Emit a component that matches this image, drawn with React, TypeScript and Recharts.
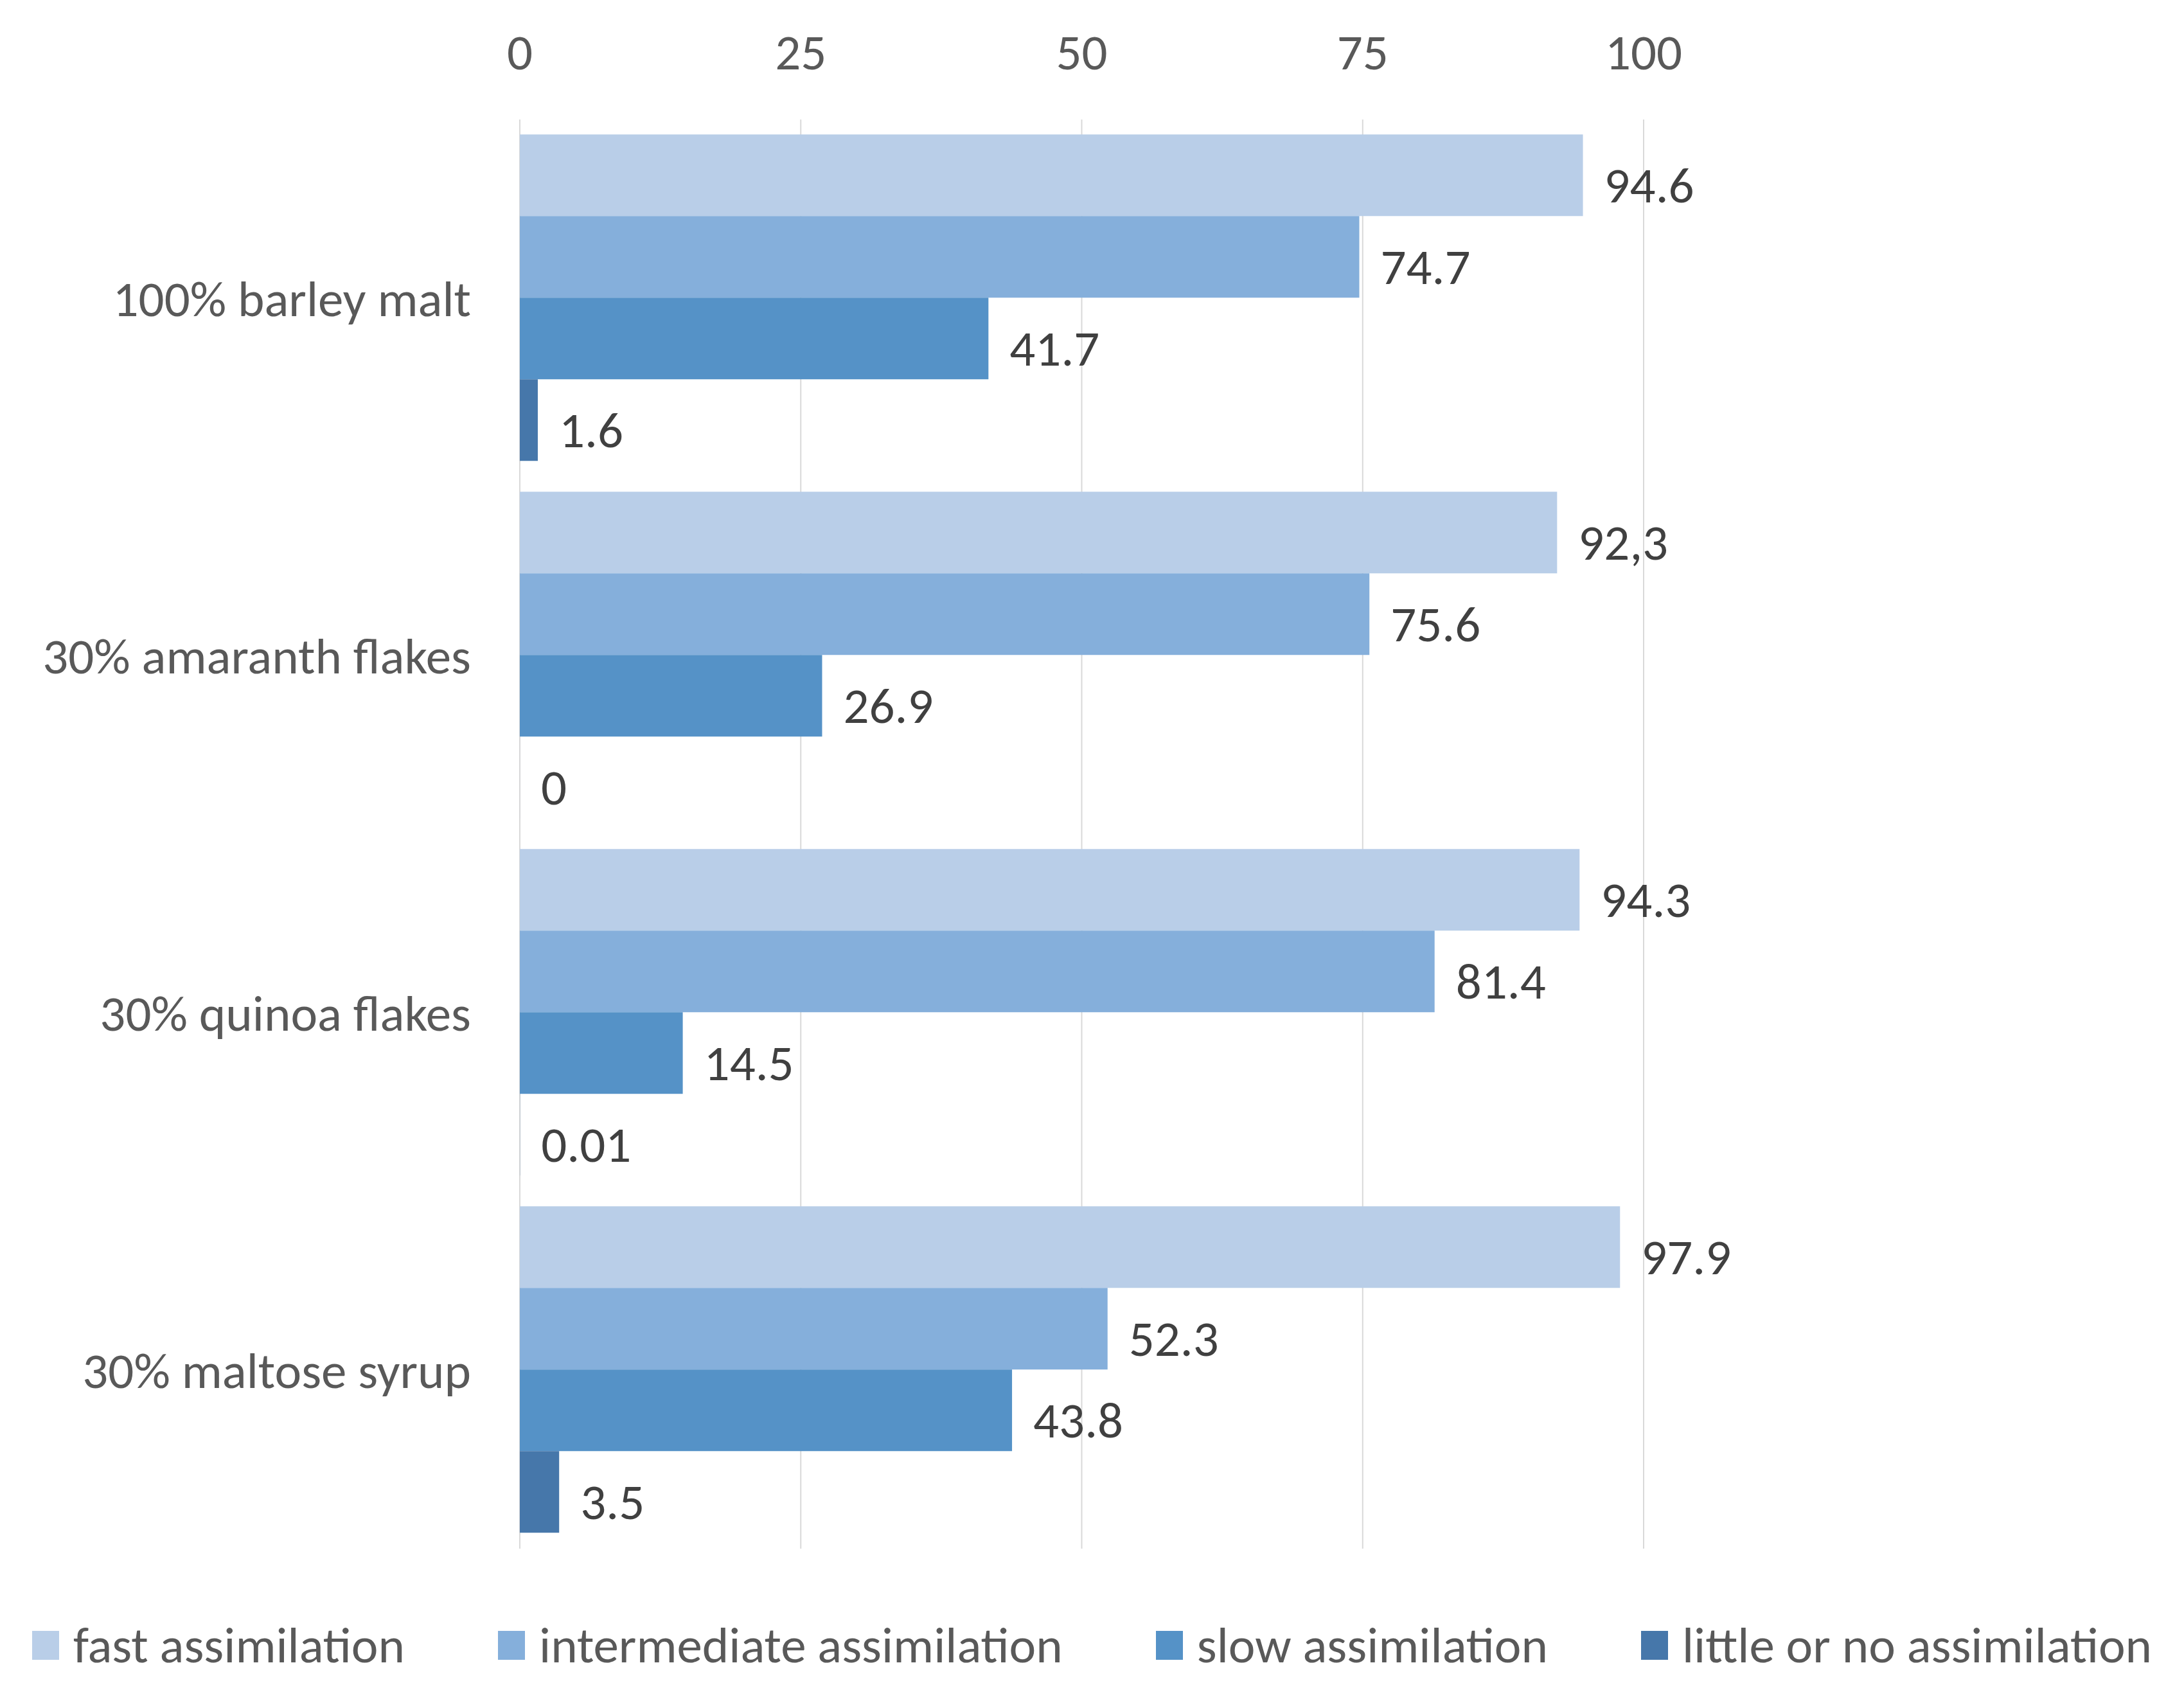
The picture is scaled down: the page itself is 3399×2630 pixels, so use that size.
import { BarChart, Bar, XAxis, YAxis, CartesianGrid, Legend, LabelList } from "recharts";

const categories = ["100% barley malt", "30% amaranth flakes", "30% quinoa flakes", "30% maltose syrup"];
const fastValues = [94.6, 92.3, 94.3, 97.9];
const intermediateValues = [74.7, 75.6, 81.4, 52.3];
const slowValues = [41.7, 26.9, 14.5, 43.8];
const littleValues = [1.6, 0, 0.01, 3.5];
// label text as printed on the original (one uses a decimal comma)
const fastLabels = ["94.6", "92,3", "94.3", "97.9"];
const xTicks = [0, 25, 50, 75, 100];

const series = [
  { key: "fast", name: "fast assimilation", color: "#B9CEE8" },
  { key: "intermediate", name: "intermediate assimilation", color: "#85AFDB" },
  { key: "slow", name: "slow assimilation", color: "#5592C7" },
  { key: "little", name: "little or no assimilation", color: "#4677AA" },
];

const chartData = categories.map((category, i) => ({
  category,
  fast: fastValues[i],
  intermediate: intermediateValues[i],
  slow: slowValues[i],
  little: littleValues[i],
  fastLabel: fastLabels[i],
  intermediateLabel: String(intermediateValues[i]),
  slowLabel: String(slowValues[i]),
  littleLabel: String(littleValues[i]),
}));

const FONT = "Carlito, Calibri, Lato, sans-serif";
const FONT_SIZE = 79;

// value label just right of the bar end, sitting a little below the bar centre
function BarValueLabel(props: any) {
  const { x, y, width, height, value } = props;
  if (value == null) return null;
  return (
    <text
      x={Number(x) + Number(width) + 33}
      y={Number(y) + Number(height) / 2 + 15}
      dominantBaseline="central"
      fill="#404040"
      fontSize={FONT_SIZE}
      fontFamily={FONT}
    >
      {value}
    </text>
  );
}

function ChartLegend() {
  return (
    <div
      style={{
        width: 3399,
        height: 220,
        display: "flex",
        justifyContent: "center",
        alignItems: "center",
        gap: 145,
        paddingTop: 80,
        boxSizing: "border-box",
        fontFamily: FONT,
        fontSize: FONT_SIZE,
        color: "#595959",
      }}
    >
      {series.map((s) => (
        <div key={s.key} style={{ display: "flex", alignItems: "center", gap: 22 }}>
          <span style={{ width: 42, height: 45, background: s.color, display: "inline-block" }} />
          <span style={{ whiteSpace: "nowrap" }}>{s.name}</span>
        </div>
      ))}
    </div>
  );
}

export default function App() {
  return (
    <div style={{ width: 3399, height: 2630, background: "#fff" }}>
      <style>{"body{margin:0}"}</style>
      <BarChart
        width={3399}
        height={2630}
        data={chartData}
        layout="vertical"
        barCategoryGap="4.2%"
        barGap={0}
        margin={{ top: 0, right: 841, left: 0, bottom: 0 }}
      >
        <CartesianGrid horizontal={false} stroke="#D9D9D9" strokeWidth={2} />
        <XAxis
          type="number"
          orientation="top"
          domain={[0, 100]}
          ticks={xTicks}
          axisLine={false}
          tickLine={false}
          height={186}
          tickMargin={72}
          tick={{ fontSize: FONT_SIZE, fill: "#595959", fontFamily: FONT }}
        />
        <YAxis
          type="category"
          dataKey="category"
          width={809}
          axisLine={false}
          tickLine={false}
          tickMargin={70}
          tick={{ fontSize: FONT_SIZE, fill: "#595959", fontFamily: FONT }}
        />
        <Legend
          verticalAlign="bottom"
          wrapperStyle={{ left: 0, width: 3399 }}
          content={() => <ChartLegend />}
        />
        {series.map((s) => (
          <Bar
            key={s.key}
            dataKey={s.key}
            name={s.name}
            fill={s.color}
            minPointSize={0.02}
            isAnimationActive={false}
          >
            <LabelList dataKey={`${s.key}Label`} content={BarValueLabel} />
          </Bar>
        ))}
      </BarChart>
    </div>
  );
}
